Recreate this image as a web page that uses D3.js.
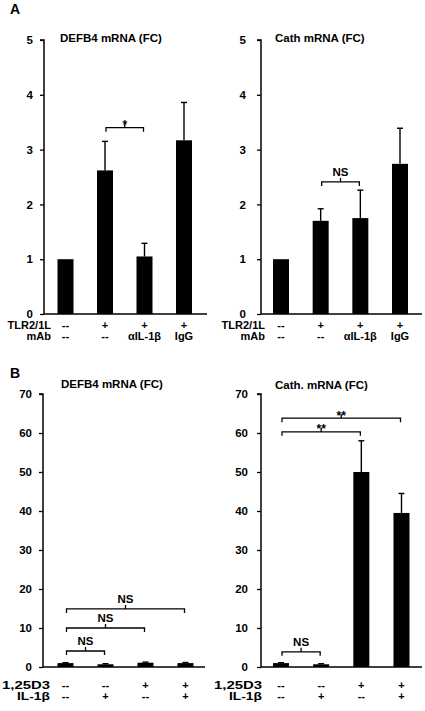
<!DOCTYPE html>
<html>
<head>
<meta charset="utf-8">
<script src="https://cdn.jsdelivr.net/npm/d3@7"></script>
<style>
  html, body { margin: 0; padding: 0; background: #fff; }
  svg { display: block; font-family: "Liberation Sans", Arial, sans-serif; font-weight: bold; }
</style>
</head>
<body>
<svg id="chart" width="425" height="711"></svg>
<script>
// ---------- data ----------
const categories = ["g1", "g2", "g3", "g4"];

// Panel A
const ticksA = [0, 1, 2, 3, 4, 5];
const defb4A = [1.0, 2.62, 1.05, 3.17];
const defb4AErr = [0, 0.53, 0.24, 0.69];
const cathA = [1.0, 1.70, 1.75, 2.74];
const cathAErr = [0, 0.22, 0.51, 0.65];
const rowNamesA = ["TLR2/1L", "mAb"];
const rowA1 = ["--", "+", "+", "+"];
const rowA2 = ["--", "--", "\u03b1IL-1\u03b2", "IgG"];
const bracketsDefb4A = [{ from: 1, to: 2, level: 3.4, label: "*" }];
const bracketsCathA = [{ from: 1, to: 2, level: 2.41, label: "NS" }];

// Panel B
const ticksB = [0, 10, 20, 30, 40, 50, 60, 70];
const defb4B = [1.0, 0.7, 1.1, 1.0];
const defb4BErr = [0.1, 0.15, 0.15, 0.15];
const cathB = [1.0, 0.7, 50.0, 39.5];
const cathBErr = [0.1, 0.15, 8.0, 5.0];
const rowNamesB = ["1,25D3", "IL-1\u03b2"];
const rowB1 = ["--", "--", "+", "+"];
const rowB2 = ["--", "+", "--", "+"];
const bracketsDefb4B = [
  { from: 0, to: 1, level: 4.1, label: "NS" },
  { from: 0, to: 2, level: 10.0, label: "NS" },
  { from: 0, to: 3, level: 14.9, label: "NS" }
];
const bracketsCathB = [
  { from: 0, to: 2, level: 60.3, label: "**" },
  { from: 0, to: 3, level: 63.8, label: "**" },
  { from: 0, to: 1, level: 3.9, label: "NS" }
];

// ---------- layout ----------
const svg = d3.select("#chart");

function panel(cfg) {
  const g = svg.append("g");
  const y = d3.scaleLinear().domain(cfg.domain).range([cfg.yBottom, cfg.yTop]);
  const x = d3.scalePoint().domain(categories).range(cfg.centers);
  const bw = 16;

  // y axis
  const yAxis = d3.axisLeft(y).tickValues(cfg.ticks).tickFormat(d3.format("d"))
    .tickSize(4).tickPadding(cfg.tickPad);
  const ya = g.append("g").attr("transform", `translate(${cfg.axisX},0)`).call(yAxis);
  ya.select(".domain").attr("stroke", "#000").attr("stroke-width", 1.5).attr("d", `M-4,${cfg.yTop}H0V${cfg.yBottom}`);
  ya.selectAll(".tick line").attr("stroke", "#000").attr("stroke-width", 1.3);
  ya.selectAll(".tick text").attr("font-size", 11.5).attr("font-weight", "bold").attr("fill", "#000")
    .attr("font-family", "Liberation Sans, Arial, sans-serif");

  // bars
  g.selectAll("rect.bar").data(cfg.values).join("rect")
    .attr("x", (d, i) => x(categories[i]) - bw / 2)
    .attr("y", d => y(d))
    .attr("width", bw)
    .attr("height", d => y(0) - y(d))
    .attr("fill", "#000");

  // error bars
  cfg.values.forEach((v, i) => {
    const e = cfg.errors[i];
    if (!e) return;
    const cx = x(categories[i]);
    g.append("line").attr("x1", cx).attr("x2", cx).attr("y1", y(v)).attr("y2", y(v + e))
      .attr("stroke", "#000").attr("stroke-width", 1.4);
    g.append("line").attr("x1", cx - 3).attr("x2", cx + 3).attr("y1", y(v + e)).attr("y2", y(v + e))
      .attr("stroke", "#000").attr("stroke-width", 1.4);
  });

  // x axis line
  g.append("line").attr("x1", cfg.axisX).attr("x2", cfg.xEnd)
    .attr("y1", y(0)).attr("y2", y(0)).attr("stroke", "#000").attr("stroke-width", 1.5);

  // brackets
  cfg.brackets.forEach(b => {
    const x1 = x(categories[b.from]) + 1, x2 = x(categories[b.to]) - 1;
    const by = y(b.level);
    g.append("path")
      .attr("d", `M${x1},${by + 4}V${by}H${x2}V${by + 4}M${(x1 + x2) / 2},${by}V${by - 4}`)
      .attr("fill", "none").attr("stroke", "#000").attr("stroke-width", 1.3);
    const star = b.label.indexOf("*") >= 0;
    g.append("text").attr("x", (x1 + x2) / 2).attr("y", star ? by + 1.5 : by - 6)
      .attr("text-anchor", "middle").attr("font-size", star ? 12 : 11.5)
      .text(b.label);
  });

  // title
  g.append("text").attr("x", cfg.titleX).attr("y", cfg.titleY).attr("font-size", 11.5).text(cfg.title);

  // row labels
  cfg.rowNames.forEach((name, r) => {
    const t = g.append("text").attr("x", cfg.rowX).attr("y", cfg.rowY[r])
      .attr("text-anchor", "end").attr("font-size", 11).text(name);
    if (cfg.rowW) t.attr("textLength", cfg.rowW[r]).attr("lengthAdjust", "spacingAndGlyphs");
  });
  cfg.rows.forEach((row, r) => {
    g.selectAll(null).data(row).join("text")
      .attr("x", (d, i) => x(categories[i]))
      .attr("y", cfg.rowY[r])
      .attr("text-anchor", "middle").attr("font-size", 11)
      .text(d => d);
  });
}

panel({ domain: [0, 5], ticks: ticksA, yTop: 40, yBottom: 314, axisX: 44, xEnd: 207, centers: [65.5, 184],
  tickPad: 7, values: defb4A, errors: defb4AErr, brackets: bracketsDefb4A,
  title: "DEFB4 mRNA (FC)", titleX: 60, titleY: 42, rowNames: rowNamesA, rowX: 51, rowY: [329, 340],
  rows: [rowA1, rowA2] });
panel({ domain: [0, 5], ticks: ticksA, yTop: 40, yBottom: 314, axisX: 261, xEnd: 422, centers: [281, 400],
  tickPad: 11, values: cathA, errors: cathAErr, brackets: bracketsCathA,
  title: "Cath mRNA (FC)", titleX: 275, titleY: 42, rowNames: rowNamesA, rowX: 265, rowY: [329, 340],
  rows: [rowA1, rowA2] });
panel({ domain: [0, 70], ticks: ticksB, yTop: 394, yBottom: 667, axisX: 43, xEnd: 205, centers: [65.5, 185.5],
  tickPad: 7, values: defb4B, errors: defb4BErr, brackets: bracketsDefb4B,
  title: "DEFB4 mRNA (FC)", titleX: 61, titleY: 388, rowNames: rowNamesB, rowX: 50, rowY: [689, 700],
  rowW: [48, 33], rows: [rowB1, rowB2] });
panel({ domain: [0, 70], ticks: ticksB, yTop: 394, yBottom: 667, axisX: 261, xEnd: 422, centers: [281, 401.5],
  tickPad: 9, values: cathB, errors: cathBErr, brackets: bracketsCathB,
  title: "Cath. mRNA (FC)", titleX: 275, titleY: 389, rowNames: rowNamesB, rowX: 262, rowY: [689, 700],
  rowW: [48, 33], rows: [rowB1, rowB2] });

// panel letters
svg.append("text").attr("x", 10).attr("y", 14).attr("font-size", 14).text("A");
svg.append("text").attr("x", 10).attr("y", 378).attr("font-size", 14).text("B");
</script>
</body>
</html>
